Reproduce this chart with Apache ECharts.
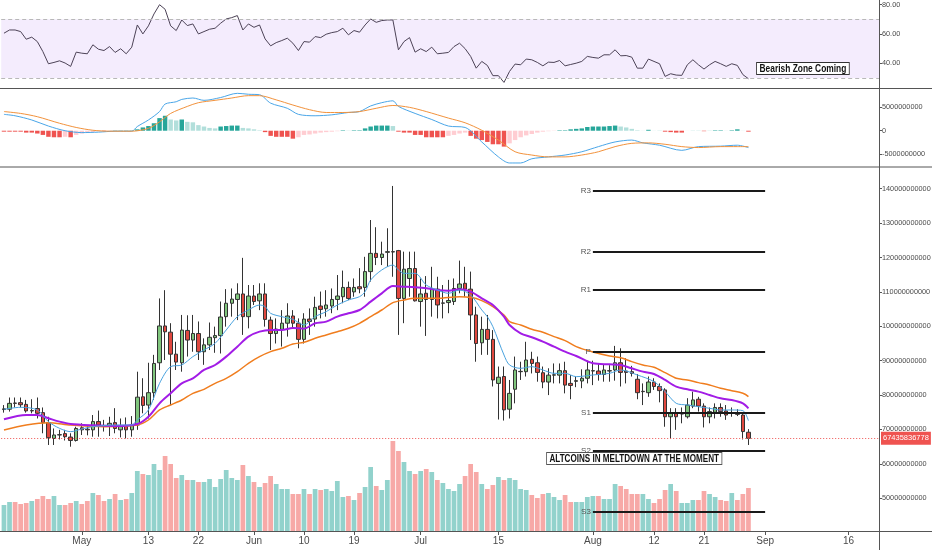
<!DOCTYPE html>
<html lang="en">

<head>
    <meta charset="UTF-8">
    <title>Altcoins market cap</title>
    <script src="https://cdn.jsdelivr.net/npm/echarts@6/dist/echarts.min.js"></script>
    <style>
        html, body { margin: 0; padding: 0; background: #fff; }
    </style>
</head>

<body>
    <div id="chart" style="width: 932px;height: 550px;"></div>

    <script>
        // days on the x axis (Apr 17 .. Sep 21, 2019), candles only up to Aug 29
        const firstDay = [2019, 3, 17];
        const dayCount = 158;
        const tickDates = ['2019-05-01', '2019-05-13', '2019-05-22', '2019-06-01', '2019-06-10', '2019-06-19',
            '2019-07-01', '2019-07-15', '2019-08-01', '2019-08-12', '2019-08-21', '2019-09-01', '2019-09-16'];
        const tickLabels = ['May', '13', '22', 'Jun', '10', '19', 'Jul', '15', 'Aug', '12', '21', 'Sep', '16'];

        // [open, close, low, high] in billions
        const ohlc = [
            [75.8, 76.0, 74.9, 77.1], [75.9, 77.6, 75.2, 79.3], [77.7, 77.6, 76.4, 79.3], [77.8, 77.2, 76.4, 79.3], [77.3, 75.4, 74.9, 78.6],
            [75.4, 75.5, 74.7, 78.8], [76.1, 74.7, 73.2, 79.3], [74.9, 72.0, 68.9, 76.4], [72.0, 67.6, 65.5, 73.7], [67.4, 68.4, 65.5, 70.3],
            [68.4, 68.5, 67.1, 69.9], [68.8, 67.9, 66.8, 69.9], [67.8, 66.8, 65.0, 68.9], [66.8, 70.3, 66.5, 70.8], [70.5, 69.9, 68.4, 71.8],
            [70.1, 69.9, 68.3, 71.0], [69.9, 72.3, 67.9, 74.2], [72.3, 71.3, 67.9, 75.5], [71.1, 71.0, 69.4, 72.8], [71.0, 71.8, 68.1, 73.7],
            [72.0, 70.3, 68.9, 76.2], [69.9, 71.0, 67.7, 73.2], [71.0, 69.9, 67.4, 73.5], [69.9, 71.2, 67.9, 73.9], [71.3, 79.4, 69.9, 86.8],
            [79.5, 77.0, 74.7, 84.9], [77.1, 80.7, 73.2, 89.4], [80.7, 89.2, 78.6, 91.7], [89.4, 100.1, 87.3, 108.1], [100.1, 98.4, 90.2, 110.5],
            [98.3, 91.9, 77.1, 100.9], [91.9, 89.6, 87.3, 95.5], [89.4, 98.9, 86.8, 103.3], [98.8, 96.0, 91.2, 103.2], [96.0, 97.9, 92.6, 103.3],
            [97.9, 92.6, 90.2, 101.4], [92.6, 94.6, 88.8, 96.5], [94.6, 96.8, 93.1, 101.1], [96.7, 97.3, 92.3, 99.9], [97.3, 102.7, 92.1, 107.2],
            [102.8, 106.7, 99.9, 110.8], [106.7, 107.9, 102.8, 111.0], [107.8, 109.4, 101.8, 112.5], [109.4, 102.8, 97.5, 119.9], [102.8, 108.8, 99.4, 112.0],
            [108.8, 107.2, 106.2, 112.0], [107.4, 109.4, 104.7, 112.5], [109.4, 102.0, 99.9, 112.5], [101.8, 97.9, 93.1, 102.8], [97.9, 99.2, 95.0, 102.3],
            [99.1, 100.9, 94.1, 104.7], [100.9, 103.0, 97.0, 106.7], [103.0, 100.9, 99.4, 104.7], [100.9, 96.2, 93.6, 102.3], [96.2, 102.1, 95.0, 103.8],
            [102.1, 101.4, 97.5, 105.2], [102.1, 105.5, 99.9, 108.6], [105.9, 104.9, 102.3, 110.1], [105.1, 106.2, 102.8, 110.5], [105.9, 107.8, 103.8, 111.0],
            [107.8, 108.8, 104.7, 114.9], [108.6, 111.3, 106.7, 116.2], [111.3, 108.1, 107.6, 113.0], [110.0, 111.3, 108.6, 113.9], [111.5, 110.9, 109.6, 116.9],
            [111.3, 115.9, 108.6, 120.2], [115.9, 121.2, 113.0, 130.9], [121.2, 120.0, 117.8, 128.8], [120.0, 121.0, 117.8, 124.6], [121.5, 121.7, 117.3, 128.5],
            [121.7, 121.6, 114.4, 140.8], [122.0, 108.1, 97.5, 122.2], [108.1, 116.6, 100.9, 121.7], [113.9, 116.8, 108.6, 121.7], [116.8, 107.4, 107.2, 121.7],
            [107.2, 109.4, 99.9, 113.9], [109.6, 107.8, 97.2, 114.6], [107.8, 111.0, 102.8, 117.3], [110.8, 106.2, 102.3, 114.4], [106.7, 106.8, 102.3, 112.0],
            [106.9, 107.5, 103.8, 113.5], [107.2, 111.0, 106.2, 113.9], [111.0, 112.3, 109.6, 119.1], [112.5, 110.8, 108.6, 117.3], [110.8, 103.3, 96.0, 115.9],
            [103.3, 95.0, 89.7, 105.7], [95.2, 99.1, 91.7, 102.8], [99.1, 96.2, 91.7, 103.3], [96.2, 84.4, 82.5, 98.9], [83.4, 85.2, 72.9, 88.3],
            [85.4, 75.7, 72.6, 88.3], [75.9, 80.5, 73.2, 84.4], [81.7, 87.3, 77.6, 91.2], [86.8, 86.9, 84.4, 89.7], [86.8, 90.2, 85.4, 95.5],
            [90.4, 89.2, 86.3, 92.6], [89.4, 86.6, 83.9, 91.2], [86.5, 83.8, 82.0, 88.3], [83.8, 85.8, 80.0, 87.8], [85.8, 85.9, 83.4, 89.2],
            [85.8, 87.1, 83.4, 89.2], [87.1, 82.9, 80.5, 89.7], [83.4, 82.8, 78.8, 85.8], [84.0, 84.2, 82.3, 85.4], [84.1, 84.9, 82.0, 87.5],
            [84.9, 87.3, 83.4, 90.0], [87.0, 87.1, 82.9, 90.0], [87.0, 86.0, 84.2, 89.2], [86.0, 87.3, 83.9, 89.0], [87.0, 87.1, 83.9, 88.7],
            [87.3, 89.4, 84.2, 94.3], [89.4, 86.6, 82.5, 93.6], [87.0, 86.6, 83.4, 90.7], [86.8, 86.3, 85.4, 88.5], [84.6, 80.7, 78.8, 86.1],
            [81.0, 81.1, 77.1, 83.4], [80.7, 83.8, 79.5, 85.4], [83.8, 82.5, 81.5, 84.9], [82.5, 81.3, 77.9, 83.4], [81.5, 73.7, 70.8, 82.0],
            [73.7, 74.9, 67.4, 76.2], [74.7, 73.7, 69.9, 76.2], [74.5, 74.6, 71.8, 76.4], [73.7, 77.1, 73.2, 79.1], [76.8, 78.6, 76.2, 81.0],
            [78.8, 76.8, 75.2, 79.5], [76.8, 73.7, 70.6, 77.6], [73.7, 75.2, 71.8, 76.4], [75.0, 76.4, 73.2, 77.6], [76.4, 75.2, 73.7, 77.6],
            [75.4, 74.2, 72.8, 77.1], [74.7, 74.8, 73.7, 76.4], [74.9, 74.4, 73.9, 75.9], [74.2, 69.4, 67.1, 74.7], [69.2, 67.435836778, 65.5, 70.1]
        ];
        const lastPrice = 67435836778;

        // volume (relative units)
        const volume = [26, 29, 29, 27, 28, 30, 32, 35, 32, 35, 26, 26, 28, 30, 27, 30, 38, 36, 30, 32,
            37, 31, 32, 38, 60, 57, 56, 67, 61, 75, 67, 53, 56, 51, 51, 49, 49, 52, 44, 52,
            61, 53, 51, 66, 55, 49, 44, 48, 55, 47, 42, 42, 37, 37, 42, 37, 42, 41, 42, 40,
            50, 34, 35, 31, 38, 44, 64, 45, 41, 51, 90, 80, 69, 60, 57, 60, 62, 59, 51, 48,
            42, 40, 47, 55, 67, 59, 47, 42, 46, 54, 51, 53, 51, 42, 41, 36, 33, 37, 38, 34,
            31, 36, 29, 29, 29, 34, 35, 35, 32, 32, 47, 45, 42, 37, 37, 37, 32, 28, 32, 41,
            47, 40, 28, 28, 31, 31, 40, 37, 34, 31, 30, 38, 31, 37, 43];

        // moving averages, read at these day indexes
        const emaFastIdx = [0, 3, 6, 8, 10, 12, 14, 16, 20, 23, 24, 26, 28, 30, 32, 34, 36, 38, 40, 42, 44, 46, 47, 48, 50, 52, 54, 56, 58, 60,
            62, 64, 65, 66, 68, 70, 71, 72, 74, 76, 78, 80, 82, 84, 86, 87, 88, 90, 91, 93, 95, 97, 99, 101, 103, 106, 109, 111, 114, 117,
            119, 121, 123, 125, 127, 129, 131, 133, 134];
        const emaFast = [75.87, 76.45, 75.67, 72.28, 70.34, 69.37, 70.15, 70.83, 71.31, 71.31, 72.76, 75.67, 83.42, 88.27, 88.75, 91.18, 93.11, 95.05, 98.93, 102.80,
            104.74, 106.20, 105.71, 103.77, 102.80, 102.03, 100.38, 102.80, 104.26, 106.20, 107.65, 108.62, 110.07, 113.46, 116.37, 117.82, 116.37, 115.40, 115.40, 112.01,
            110.56, 109.59, 110.56, 109.10, 104.74, 102.80, 99.90, 91.66, 88.75, 87.78, 88.27, 87.30, 86.33, 86.33, 85.36, 85.85, 86.33, 87.30, 85.85, 83.91,
            81.00, 77.61, 77.13, 76.64, 76.16, 75.67, 75.67, 75.48, 72.57];

        const emaMidIdx = [0, 4, 6, 8, 10, 12, 16, 20, 24, 26, 28, 30, 32, 34, 36, 38, 40, 42, 44, 46, 48, 50, 52, 54, 56, 58, 60, 62, 64, 66,
            68, 70, 72, 74, 76, 78, 80, 82, 84, 86, 88, 90, 91, 93, 95, 97, 99, 101, 103, 106, 109, 111, 113, 115, 117, 119, 121, 123, 125, 127,
            129, 131, 133, 134];
        const emaMid = [72.96, 74.22, 74.22, 73.25, 72.28, 71.60, 71.21, 71.02, 71.60, 73.73, 77.61, 80.52, 83.42, 84.88, 87.30, 88.75, 91.18, 94.08, 96.99, 98.44,
            98.93, 98.93, 99.51, 99.32, 100.87, 101.35, 102.80, 103.77, 104.74, 107.17, 109.59, 111.72, 111.53, 111.33, 111.04, 110.56, 110.36, 110.75, 110.07, 108.13,
            106.20, 102.80, 100.38, 97.96, 96.80, 95.54, 94.08, 92.63, 91.37, 89.24, 88.95, 88.75, 87.78, 86.82, 86.14, 84.39, 82.45, 81.68, 81.00, 80.03,
            79.06, 78.58, 77.61, 76.16];

        const emaSlowIdx = [0, 4, 8, 12, 18, 24, 26, 28, 30, 32, 34, 36, 38, 40, 42, 44, 46, 48, 50, 52, 54, 56, 58, 60, 62, 64, 66, 68, 70, 72,
            74, 78, 82, 84, 86, 88, 90, 91, 93, 95, 97, 99, 101, 103, 106, 109, 111, 113, 115, 117, 119, 121, 123, 125, 127, 129, 131, 133, 134];
        const emaSlow = [69.86, 71.31, 71.99, 71.31, 70.83, 71.31, 72.76, 75.67, 77.13, 78.58, 80.52, 81.68, 83.42, 84.88, 86.82, 89.24, 91.18, 92.63, 93.60, 94.86,
            95.34, 96.51, 97.47, 98.44, 99.41, 100.87, 102.80, 104.74, 106.87, 107.65, 108.13, 108.13, 108.62, 108.42, 107.46, 105.71, 103.29, 101.35, 100.38, 99.12,
            98.25, 96.99, 95.83, 94.08, 92.53, 91.37, 90.88, 89.72, 88.75, 88.08, 86.52, 84.88, 84.39, 83.62, 82.94, 81.97, 81.29, 80.52, 79.55];

        // pivot levels (billions), drawn from Aug 1 to Sep 1
        const pivotNames = ['R3', 'R2', 'R1', 'P', 'S1', 'S2', 'S3'];
        const pivotLevels = [139.53, 121.6, 110.6, 92.6, 74.9, 63.75, 46.1];
        const pivotFrom = '2019-08-01';
        const pivotTo = '2019-09-01';

        // RSI
        const rsi = [60.5, 62.7, 62.7, 61.6, 56.4, 57.8, 54.8, 48.0, 39.7, 40.6, 41.7, 40.2, 37.9, 47.6, 46.9, 46.5, 52.6, 49.6, 48.7, 51.4,
            47.4, 49.9, 46.5, 51.0, 66.1, 60.0, 65.5, 73.6, 79.9, 76.8, 65.5, 62.3, 69.5, 65.7, 66.8, 60.0, 61.6, 63.2, 63.9, 67.3,
            70.2, 71.1, 72.5, 62.7, 66.8, 64.5, 66.1, 56.6, 51.9, 54.1, 55.5, 57.1, 53.7, 48.7, 54.8, 54.4, 58.2, 57.5, 59.8, 60.9,
            61.6, 63.9, 59.4, 62.3, 61.2, 66.1, 70.2, 67.9, 69.1, 69.5, 69.5, 49.2, 54.8, 57.5, 47.6, 49.9, 48.0, 51.0, 46.5, 46.9,
            47.4, 51.4, 53.7, 50.0, 44.7, 36.7, 41.3, 38.6, 31.6, 31.6, 27.0, 34.5, 39.5, 39.0, 42.9, 42.4, 40.6, 38.3, 40.8, 40.6,
            41.9, 38.3, 39.2, 40.1, 41.3, 44.7, 44.0, 43.5, 45.8, 45.8, 49.2, 45.1, 45.3, 44.2, 36.7, 36.7, 42.9, 41.3, 39.7, 31.1,
            32.9, 32.0, 31.8, 39.0, 42.4, 39.0, 36.1, 39.0, 41.3, 39.7, 37.9, 39.7, 38.6, 32.3, 29.5];

        // MACD (billions)
        const macdIdx = [0, 2, 5, 8, 11, 14, 17, 20, 23, 24, 26, 28, 29, 31, 32, 34, 36, 39, 42, 44, 46, 48, 51, 53, 56, 59, 62, 64, 66, 68,
            70, 71, 74, 77, 80, 83, 86, 89, 91, 93, 95, 98, 101, 104, 107, 110, 113, 115, 118, 122, 125, 129, 132, 134];
        const macdLine = [3.5, 3.2, 2.3, 1.0, 0, -0.4, -0.3, -0.1, -0.1, 0.9, 2.3, 4.1, 5.7, 6.2, 6.7, 7.0, 6.5, 7.1, 8.0, 7.8,
            7.7, 5.9, 4.8, 3.5, 3.2, 3.4, 3.9, 4.1, 5.3, 6.0, 6.4, 5.2, 3.7, 2.4, 1.0, 0.7, -2.4, -5.6, -6.9, -6.9,
            -6.0, -5.6, -5.2, -4.5, -3.4, -2.4, -2.0, -2.6, -3.1, -4.2, -3.4, -3.3, -3.1, -3.6];
        const signalIdx = [0, 3, 6, 10, 13, 16, 19, 23, 26, 28, 30, 33, 35, 38, 41, 44, 46, 49, 52, 55, 58, 61, 64, 67, 70, 73, 76, 80, 83, 86,
            89, 92, 95, 98, 101, 104, 107, 110, 113, 116, 119, 122, 125, 129, 132, 134];
        const signalLine = [4.1, 3.7, 3.0, 1.6, 0.7, 0.1, -0.1, -0.1, 0.5, 1.9, 3.7, 5.2, 6.0, 6.5, 7.0, 7.5, 7.5, 6.6, 5.5, 4.5,
            3.9, 3.9, 4.1, 4.8, 5.4, 5.0, 4.1, 2.7, 1.7, 0.1, -2.0, -4.5, -5.2, -5.6, -5.6, -5.2, -4.5, -3.4, -2.7, -2.6,
            -2.9, -3.4, -3.6, -3.4, -3.4, -3.4];
        const macdHist = [-0.2, -0.2, -0.2, -0.2, -0.4, -0.4, -0.6, -0.9, -1.3, -1.4, -1.4, -1.3, -1.4, -0.9, -0.6, -0.4, -0.3, -0.1, -0.1, -0.05,
            0.05, 0.05, 0.05, 0.05, 0.3, 0.7, 1.0, 1.6, 2.7, 3.2, 2.4, 2.2, 2.4, 1.9, 1.8, 1.2, 0.9, 0.6, 0.5, 0.9,
            1.0, 1.1, 1.1, 0.6, 0.5, 0.3, 0.1, -0.3, -1.1, -1.3, -1.3, -1.3, -1.7, -1.4, -0.9, -0.8, -0.6, -0.4, -0.3, -0.2,
            -0.1, 0.1, 0.05, 0.1, 0.1, 0.5, 0.9, 1.1, 1.1, 1.1, 1.0, -0.2, -0.4, -0.4, -0.9, -0.9, -1.4, -1.4, -1.4, -1.4,
            -1.1, -0.9, -0.6, -0.4, -1.1, -1.7, -2.0, -2.4, -2.9, -2.9, -3.4, -2.7, -2.0, -1.4, -1.0, -0.7, -0.4, -0.2, -0.1, -0.05,
            0.1, 0.1, 0.3, 0.4, 0.5, 0.8, 0.9, 0.9, 0.9, 1.0, 1.1, 0.9, 0.7, 0.4, 0.1, 0.02, 0.2, 0.02, 0.02, -0.2,
            -0.3, -0.4, -0.4, -0.02, 0.02, 0.02, -0.1, 0.02, 0.1, 0.1, 0.02, 0.1, 0.3, 0.02, -0.2];

        // ---- build the chart ----
        const days = [];
        for (let i = 0; i < dayCount; i++) {
            days.push(new Date(Date.UTC(firstDay[0], firstDay[1], firstDay[2] + i)).toISOString().slice(0, 10));
        }
        const pairs = (idx, vals) => idx.map((d, k) => [days[d], vals[k]]);
        const big = v => String(Math.round(v * 1e9));

        const volData = volume.map((v, i) => ({
            value: v,
            itemStyle: { color: ohlc[i][1] >= ohlc[i][0] ? 'rgba(38,166,154,0.5)' : 'rgba(239,83,80,0.5)' }
        }));
        const histData = macdHist.map((v, i) => {
            const p = i > 0 ? macdHist[i - 1] : v;
            let c;
            if (v >= 0) c = v >= p ? '#26a69a' : '#b2dfdb';
            else c = v <= p ? '#ef5350' : '#ffcdd2';
            return { value: v, itemStyle: { color: c } };
        });

        const pivotLines = pivotNames.map((n, k) => [
            { name: n, coord: [pivotFrom, pivotLevels[k]] },
            { coord: [pivotTo, pivotLevels[k]] }
        ]);

        const axisFont = { color: '#4a4a4a', fontSize: 7.3, fontFamily: 'Liberation Sans' };
        const gridBase = { left: 1.2, right: 53, containLabel: false, outerBoundsMode: 'none' };

        function hiddenX(gi) {
            return {
                type: 'category', gridIndex: gi, data: days, boundaryGap: true,
                axisLine: { show: false }, axisTick: { show: false }, axisLabel: { show: false }, splitLine: { show: false }
            };
        }
        function rightY(gi, min, max, ticks, fmt) {
            return {
                type: 'value', gridIndex: gi, position: 'right', min: min, max: max, scale: true,
                splitLine: { show: false }, axisLine: { show: false },
                axisTick: { show: true, length: 3, customValues: ticks, lineStyle: { color: '#555' } },
                axisLabel: Object.assign({ margin: 3, customValues: ticks, formatter: fmt }, axisFont)
            };
        }
        const noteFont = 'bold 10px "Liberation Sans", sans-serif';

        let myChart = echarts.init(document.getElementById('chart'));

        let option = {
            animation: false,
            backgroundColor: '#fff',
            grid: [
                Object.assign({ top: 0, height: 88 }, gridBase),
                Object.assign({ top: 88, height: 79 }, gridBase),
                Object.assign({ top: 167, height: 364 }, gridBase)
            ],
            xAxis: [
                hiddenX(0),
                hiddenX(1),
                {
                    type: 'category', gridIndex: 2, data: days, boundaryGap: true,
                    axisLine: { show: false },
                    axisTick: {
                        show: true, length: 4, alignWithLabel: true, lineStyle: { color: '#555' },
                        interval: (i, v) => tickDates.indexOf(v) >= 0
                    },
                    axisLabel: {
                        color: '#4a4a4a', fontSize: 10, fontFamily: 'Liberation Sans', margin: 5,
                        interval: (i, v) => tickDates.indexOf(v) >= 0,
                        formatter: v => tickLabels[tickDates.indexOf(v)] || ''
                    },
                    splitLine: { show: false }
                }
            ],
            yAxis: [
                rightY(0, 23.2, 83.1, [40, 60, 80], v => v.toFixed(2)),
                rightY(1, -7.76, 9.14, [-5, 0, 5], big),
                rightY(2, 40.49, 146.31, [50, 60, 70, 80, 90, 100, 110, 120, 130, 140], big),
                { type: 'value', gridIndex: 2, min: 0, max: 364, show: false }
            ],
            graphic: [
                // pane frame
                { type: 'line', shape: { x1: 0, y1: 88.5, x2: 932, y2: 88.5 }, style: { stroke: '#555', lineWidth: 1 }, z: 50 },
                { type: 'line', shape: { x1: 0, y1: 167, x2: 932, y2: 167 }, style: { stroke: '#555', lineWidth: 1 }, z: 50 },
                { type: 'line', shape: { x1: 0, y1: 531.5, x2: 932, y2: 531.5 }, style: { stroke: '#555', lineWidth: 1 }, z: 50 },
                { type: 'line', shape: { x1: 879.5, y1: 0, x2: 879.5, y2: 550 }, style: { stroke: '#555', lineWidth: 1 }, z: 50 },
                // annotations
                {
                    type: 'text', x: 757, y: 63, scaleX: 0.84, z: 60,
                    style: {
                        text: 'Bearish Zone Coming', fill: '#111', font: noteFont, verticalAlign: 'top',
                        backgroundColor: '#fff', borderColor: '#333', borderWidth: 1, padding: [1, 3, 0, 3]
                    }
                },
                {
                    type: 'text', x: 547, y: 453, scaleX: 0.81, z: 60,
                    style: {
                        text: 'ALTCOINS IN MELTDOWN AT THE MOMENT', fill: '#111', font: noteFont, verticalAlign: 'top',
                        backgroundColor: '#fff', borderColor: '#555', borderWidth: 1, padding: [1, 3, 0, 3]
                    }
                }
            ],
            series: [
                {
                    name: 'RSI', type: 'line', xAxisIndex: 0, yAxisIndex: 0, data: rsi,
                    symbol: 'none', lineStyle: { color: '#4d4357', width: 1 }, silent: true,
                    markArea: {
                        silent: true, itemStyle: { color: 'rgba(155,80,235,0.11)' },
                        data: [[{ yAxis: 30 }, { yAxis: 70 }]]
                    },
                    markLine: {
                        silent: true, symbol: ['none', 'none'], label: { show: false },
                        lineStyle: { color: '#b8b8b8', type: [4, 3], width: 1 },
                        data: [{ yAxis: 30 }, { yAxis: 70 }]
                    }
                },
                {
                    name: 'Histogram', type: 'bar', xAxisIndex: 1, yAxisIndex: 1, data: histData,
                    barWidth: '80%', silent: true
                },
                {
                    name: 'MACD', type: 'line', xAxisIndex: 1, yAxisIndex: 1, data: pairs(macdIdx, macdLine),
                    symbol: 'none', smooth: 0.3, lineStyle: { color: '#4aa6e8', width: 1 }, silent: true
                },
                {
                    name: 'Signal', type: 'line', xAxisIndex: 1, yAxisIndex: 1, data: pairs(signalIdx, signalLine),
                    symbol: 'none', smooth: 0.3, lineStyle: { color: '#f2923c', width: 1 }, silent: true
                },
                {
                    name: 'Volume', type: 'bar', xAxisIndex: 2, yAxisIndex: 3, data: volData,
                    barWidth: '85%', silent: true
                },
                {
                    name: 'EMA slow', type: 'line', xAxisIndex: 2, yAxisIndex: 2, data: pairs(emaSlowIdx, emaSlow),
                    symbol: 'none', smooth: 0.3, lineStyle: { color: '#f07d1e', width: 1.5 }, silent: true
                },
                {
                    name: 'EMA mid', type: 'line', xAxisIndex: 2, yAxisIndex: 2, data: pairs(emaMidIdx, emaMid),
                    symbol: 'none', smooth: 0.3, lineStyle: { color: '#a21ce6', width: 2 }, silent: true
                },
                {
                    name: 'EMA fast', type: 'line', xAxisIndex: 2, yAxisIndex: 2, data: pairs(emaFastIdx, emaFast),
                    symbol: 'none', smooth: 0.3, lineStyle: { color: '#4aa3df', width: 1 }, silent: true
                },
                {
                    name: 'Price', type: 'candlestick', xAxisIndex: 2, yAxisIndex: 2, data: ohlc,
                    barWidth: 4, silent: true,
                    itemStyle: {
                        color: '#80c67d', color0: '#e0483f',
                        borderColor: '#333', borderColor0: '#333', borderWidth: 1
                    },
                    markLine: {
                        silent: true, symbol: ['none', 'none'], animation: false,
                        data: [
                            ...pivotLines.map(p => [
                                Object.assign({}, p[0], {
                                    lineStyle: { color: '#1a1a1a', width: 2, type: 'solid' },
                                    label: { show: true, position: 'start', formatter: '{b}', color: '#555', fontSize: 8, distance: 2 }
                                }),
                                p[1]
                            ]),
                            {
                                yAxis: lastPrice / 1e9,
                                lineStyle: { color: '#ef5350', type: [1, 2], width: 1 },
                                label: {
                                    show: true, position: 'end', formatter: String(lastPrice),
                                    backgroundColor: '#ef5350', color: '#fff', fontSize: 7.5,
                                    fontFamily: 'Liberation Sans', padding: [3, 2, 2, 2], distance: 2
                                }
                            }
                        ]
                    }
                }
            ]
        };

        myChart.setOption(option);
    </script>
</body>

</html>
